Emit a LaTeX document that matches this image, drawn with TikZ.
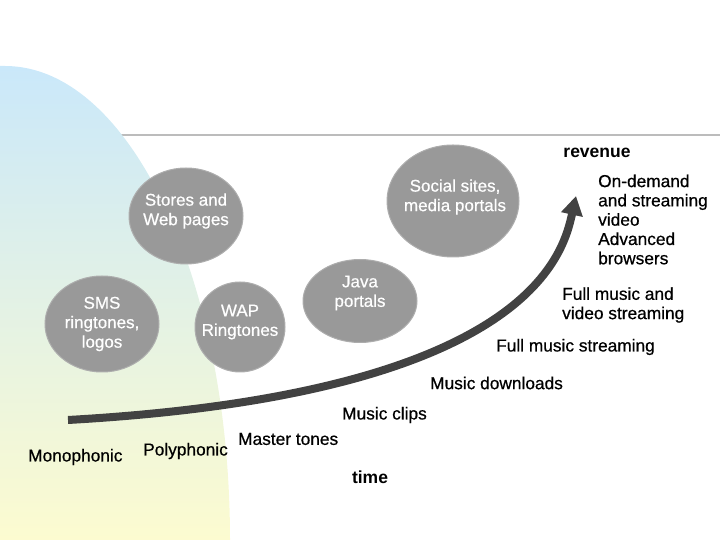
\documentclass[tikz,border=0pt]{standalone}
\usepackage{fontspec}
\setmainfont{Liberation Sans}[UprightFeatures={FakeBold=0.6}]
\usetikzlibrary{shapes.geometric,arrows.meta}
\definecolor{bubbleGray}{RGB}{153,153,153}
\definecolor{curveGray}{RGB}{66,66,66}
\definecolor{ruleGray}{RGB}{188,188,188}
\definecolor{skyBlue}{RGB}{202,232,250}
\definecolor{paleYellow}{RGB}{252,251,208}
\tikzset{
  bubble/.style={ellipse, fill=bubbleGray, draw=bubbleGray!80!white, line width=1pt, inner sep=0pt},
  bubbletext/.style={text=white, align=center, inner sep=0pt, font=\fontsize{17}{19.5}\selectfont},
  stage/.style={anchor=west, inner sep=0pt, align=left, font=\fontsize{17.3}{19.3}\selectfont},
  axislabel/.style={inner sep=0pt, font=\bfseries\fontsize{17.5}{20}\selectfont},
}
\begin{document}
\begin{tikzpicture}[x=1pt, y=1pt]
\useasboundingbox (0,0) rectangle (720,540);
% Rule line
\draw[ruleGray, line width=2.5pt] (117,405) -- (720,405);
% Shaded backdrop
\shade[top color=skyBlue, bottom color=paleYellow] (0,0) -- (0,474) -- (5,474) arc[start angle=90, end angle=0, x radius=225, y radius=474] -- cycle;
% Bubbles
\begin{scope}
  \node[bubble, minimum width=114pt, minimum height=96pt] (stores) at (186,324) {};
  \node[bubble, minimum width=114pt, minimum height=96pt] (sms) at (102,216) {};
  \node[bubble, minimum width=90pt, minimum height=90pt] (wap) at (240,213) {};
  \node[bubble, minimum width=114pt, minimum height=83pt] (java) at (360,239) {};
  \node[bubble, minimum width=132pt, minimum height=112pt] (social) at (453,339) {};
  \node[bubbletext] (stores-txt) at (186,329) {Stores and\\Web pages};
  \node[bubbletext] (sms-txt) at (102,216) {SMS\\ringtones,\\logos};
  \node[bubbletext] (wap-txt) at (240,218) {WAP\\Ringtones};
  \node[bubbletext] (java-txt) at (360,247) {Java\\portals};
  \node[bubbletext] (social-txt) at (455,343) {Social sites,\\media portals};
\end{scope}
% Growth curve
\coordinate (tstart) at (68,120);
\coordinate (ttip) at (576,344);
\draw[curveGray, line width=8pt, -{Triangle[length=19pt, width=21pt]}] (tstart) .. controls (528,146) and (563,285) .. (ttip);
% Stage labels
\node[stage] (ondemand) at (598,320.5) {On-demand\\and streaming\\video\\Advanced\\browsers};
\node[stage] (fullvideo) at (562,235) {Full music and\\video streaming};
\node[stage] (fullmusic) at (496,193) {Full music streaming};
\node[stage] (downloads) at (430,157) {Music downloads};
\node[stage] (clips) at (342,125) {Music clips};
\node[stage] (master) at (238,101) {Master tones};
\node[stage] (poly) at (143,89) {Polyphonic};
\node[stage] (mono) at (28,83) {Monophonic};
% Axes
\node[axislabel] (revenue) at (597,387) {revenue};
\node[axislabel] (time) at (370,63) {time};
\end{tikzpicture}
\end{document}
